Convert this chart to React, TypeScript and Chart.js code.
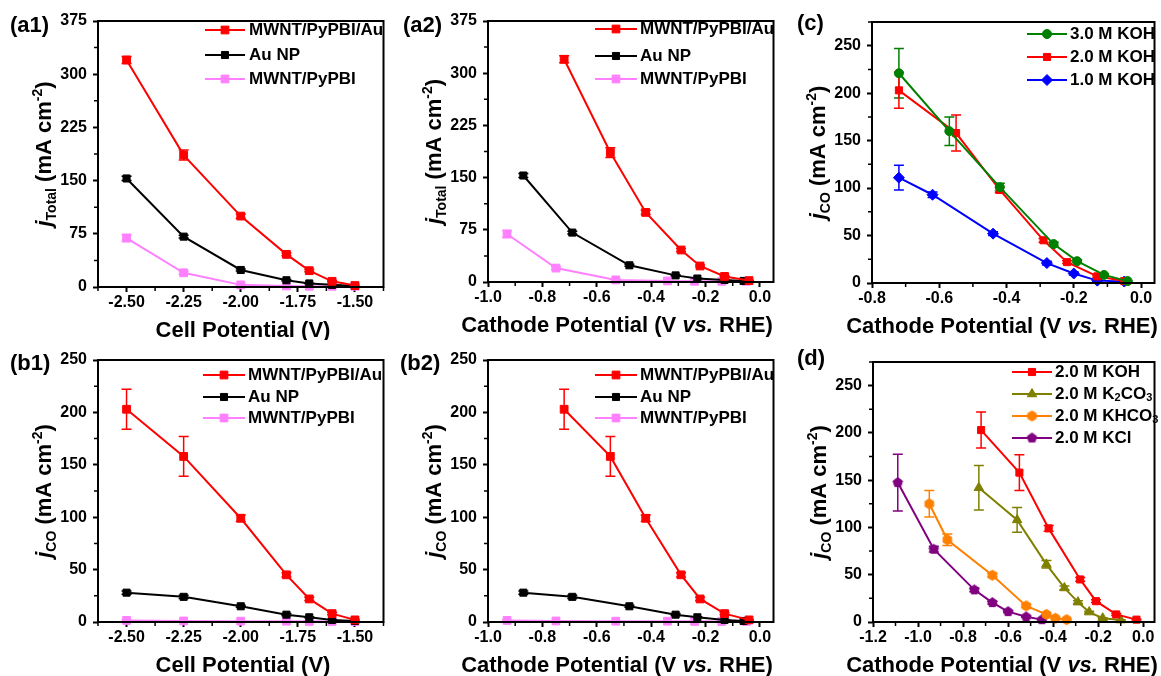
import React, { useEffect, useRef } from 'react';
import { Chart, registerables } from 'chart.js';

Chart.register(...registerables);

const FONT = "'Liberation Sans', Arial, Helvetica, sans-serif";

// ---------- x values ----------
const cellPotential = [-2.5, -2.25, -2.0, -1.8, -1.7, -1.6, -1.5];
const cathodeAu = [-0.72, -0.55, -0.42, -0.29, -0.22, -0.13, -0.04];
const cathodeAuNP = [-0.87, -0.69, -0.48, -0.31, -0.23, -0.13, -0.06];
const cathodeMWNT = [-0.93, -0.75, -0.53, -0.34, -0.24, -0.14, -0.05];

// ---------- total current density (a1, a2) ----------
const jTotalAu = [320, 186, 100, 46, 23, 8, 2];
const jTotalAuErr = [5, 7, 3, 2, 1.5, 1, 0.5];
const jTotalAuNP = [153, 71, 24, 9.5, 5, 3, 1.5];
const jTotalAuNPErr = [3, 2, 1.5, 1, 0.5, 0.5, 0.3];
const jTotalMWNT = [69, 20, 3, 1.5, 1, 1, 1];
const jTotalMWNTErr = [5, 2, 1, 0.5, 0.3, 0.3, 0.3];

// ---------- CO partial current density (b1, b2) ----------
const jCOAu = [203, 158, 99, 45, 22, 8, 2];
const jCOAuErr = [19, 19, 3, 2, 1.5, 1, 0.5];
const jCOAuNP = [28, 24, 15, 7, 4.5, 2, 1];
const jCOAuNPErr = [1.5, 1.5, 1, 1, 0.5, 0.5, 0.3];
const jCOMWNT = [1.5, 1, 0.8, 0.8, 0.6, 0.5, 0.5];
const jCOMWNTErr = [0.3, 0.3, 0.3, 0.3, 0.3, 0.3, 0.3];

// ---------- (c) KOH concentration ----------
const koh3X = [-0.72, -0.57, -0.42, -0.26, -0.19, -0.11, -0.04];
const koh3Y = [221, 160, 101, 41, 23, 8.5, 2];
const koh3Err = [26, 15, 4, 2, 1.5, 1, 0.5];
const koh2X = [-0.72, -0.55, -0.42, -0.29, -0.22, -0.13, -0.05];
const koh2Y = [203, 158, 98, 45, 22, 7, 2];
const koh2Err = [19, 19, 3, 2, 1.5, 1, 0.5];
const koh1X = [-0.72, -0.62, -0.44, -0.28, -0.2, -0.13, -0.05];
const koh1Y = [111, 93, 52, 21, 10, 2.5, 1.5];
const koh1Err = [13, 3, 2, 2, 1.5, 1, 0.5];

// ---------- (d) electrolytes ----------
const dKohX = [-0.72, -0.55, -0.42, -0.28, -0.21, -0.12, -0.03];
const dKohY = [203, 158, 99, 45, 22, 8, 2.5];
const dKohErr = [19, 19, 3, 2, 1.5, 1, 0.5];
const k2co3X = [-0.73, -0.56, -0.43, -0.35, -0.29, -0.24, -0.18, -0.1];
const k2co3Y = [142, 108, 61, 36, 21, 10.5, 4, 2];
const k2co3Err = [23.5, 13, 4, 2, 1.5, 1, 0.5, 0.3];
const khco3X = [-0.95, -0.87, -0.67, -0.52, -0.43, -0.39, -0.34];
const khco3Y = [125, 87, 49.5, 17, 8, 4, 2.5];
const khco3Err = [14, 6, 2, 1.5, 1, 0.5, 0.3];
const kclX = [-1.09, -0.93, -0.75, -0.67, -0.6, -0.52, -0.45];
const kclY = [147.5, 77, 34, 20.5, 11, 5.5, 2.5];
const kclErr = [30, 3, 2, 1.5, 1, 0.5, 0.3];

// ---------- tick labels ----------
const cellTicks = [-2.5, -2.25, -2.0, -1.75, -1.5];
const rhe10Ticks = [-1.0, -0.8, -0.6, -0.4, -0.2, 0.0];
const rhe08Ticks = [-0.8, -0.6, -0.4, -0.2, 0.0];
const rhe12Ticks = [-1.2, -1.0, -0.8, -0.6, -0.4, -0.2, 0.0];
const jTotalTicks = [0, 75, 150, 225, 300, 375];
const jCOTicks = [0, 50, 100, 150, 200, 250];

// ---------- colours ----------
const RED = '#FF0000';
const BLACK = '#000000';
const PINK = '#FF80FF';
const GREEN = '#008000';
const BLUE = '#0000FF';
const OLIVE = '#808000';
const ORANGE = '#FF8000';
const PURPLE = '#800080';

type Piece = { t: string; size: number; dy?: number; italic?: boolean };
type Series = { name: Piece[]; color: string; style: string; r: number; x: number[]; y: number[]; err: number[] };
type Panel = {
  box: { x: number; y: number; w: number; h: number };
  plot: { l: number; t: number; r: number; b: number };
  xMin: number; xMax: number; xTicks: number[]; xDec: number;
  yMin: number; yMax: number; yTicks: number[];
  label: string; labelPos: [number, number];
  xTitle: Piece[]; xTitleCx: number;
  ySub: string;
  legendLine: [number, number]; legendText: number; legendRows: number[];
  series: Series[];
};

const LEG = 17;
const txt = (t: string): Piece[] => [{ t, size: LEG }];
const cellTitle: Piece[] = [{ t: 'Cell Potential (V)', size: 22 }];
const rheTitle: Piece[] = [
  { t: 'Cathode Potential (V ', size: 22 },
  { t: 'vs.', size: 22, italic: true },
  { t: ' RHE)', size: 22 },
];

const mk = (name: Piece[], color: string, style: string, r: number, x: number[], y: number[], err: number[]): Series =>
  ({ name, color, style, r, x, y, err });

const PANELS: Panel[] = [
  {
    box: { x: 0, y: 0, w: 390, h: 340 }, plot: { l: 98, t: 21, r: 387, b: 287 },
    xMin: -2.625, xMax: -1.375, xTicks: cellTicks, xDec: 2,
    yMin: 0, yMax: 375, yTicks: jTotalTicks,
    label: '(a1)', labelPos: [10, 32], xTitle: cellTitle, xTitleCx: 243, ySub: 'Total',
    legendLine: [205, 245], legendText: 249, legendRows: [30, 55, 79],
    series: [
      mk(txt('MWNT/PyPBI/Au'), RED, 'rect', 5.5, cellPotential, jTotalAu, jTotalAuErr),
      mk(txt('Au NP'), BLACK, 'rect', 5, cellPotential, jTotalAuNP, jTotalAuNPErr),
      mk(txt('MWNT/PyPBI'), PINK, 'rect', 5.5, cellPotential, jTotalMWNT, jTotalMWNTErr),
    ],
  },
  {
    box: { x: 390, y: 0, w: 390, h: 340 }, plot: { l: 488, t: 21, r: 777, b: 282 },
    xMin: -1.0, xMax: 0.05, xTicks: rhe10Ticks, xDec: 1,
    yMin: 0, yMax: 375, yTicks: jTotalTicks,
    label: '(a2)', labelPos: [403, 32], xTitle: rheTitle, xTitleCx: 617, ySub: 'Total',
    legendLine: [595, 637], legendText: 640, legendRows: [29, 56, 79],
    series: [
      mk(txt('MWNT/PyPBI/Au'), RED, 'rect', 5.5, cathodeAu, jTotalAu, jTotalAuErr),
      mk(txt('Au NP'), BLACK, 'rect', 5, cathodeAuNP, jTotalAuNP, jTotalAuNPErr),
      mk(txt('MWNT/PyPBI'), PINK, 'rect', 5.5, cathodeMWNT, jTotalMWNT, jTotalMWNTErr),
    ],
  },
  {
    box: { x: 780, y: 0, w: 381, h: 340 }, plot: { l: 872, t: 22, r: 1159, b: 283 },
    xMin: -0.8, xMax: 0.04, xTicks: rhe08Ticks, xDec: 1,
    yMin: 0, yMax: 275, yTicks: jCOTicks,
    label: '(c)', labelPos: [797, 30], xTitle: rheTitle, xTitleCx: 1002, ySub: 'CO',
    legendLine: [1027, 1067], legendText: 1070, legendRows: [34, 57, 80],
    series: [
      mk(txt('3.0 M KOH'), GREEN, 'circle', 4.5, koh3X, koh3Y, koh3Err),
      mk(txt('2.0 M KOH'), RED, 'rect', 5, koh2X, koh2Y, koh2Err),
      mk(txt('1.0 M KOH'), BLUE, 'rectRot', 5.5, koh1X, koh1Y, koh1Err),
    ],
  },
  {
    box: { x: 0, y: 340, w: 390, h: 336 }, plot: { l: 98, t: 360, r: 387, b: 622 },
    xMin: -2.625, xMax: -1.375, xTicks: cellTicks, xDec: 2,
    yMin: 0, yMax: 250, yTicks: jCOTicks,
    label: '(b1)', labelPos: [10, 370], xTitle: cellTitle, xTitleCx: 243, ySub: 'CO',
    legendLine: [203, 245], legendText: 248, legendRows: [375, 397, 418],
    series: [
      mk(txt('MWNT/PyPBI/Au'), RED, 'rect', 5.5, cellPotential, jCOAu, jCOAuErr),
      mk(txt('Au NP'), BLACK, 'rect', 5, cellPotential, jCOAuNP, jCOAuNPErr),
      mk(txt('MWNT/PyPBI'), PINK, 'rect', 5.5, cellPotential, jCOMWNT, jCOMWNTErr),
    ],
  },
  {
    box: { x: 390, y: 340, w: 390, h: 336 }, plot: { l: 488, t: 360, r: 777, b: 622 },
    xMin: -1.0, xMax: 0.05, xTicks: rhe10Ticks, xDec: 1,
    yMin: 0, yMax: 250, yTicks: jCOTicks,
    label: '(b2)', labelPos: [400, 370], xTitle: rheTitle, xTitleCx: 617, ySub: 'CO',
    legendLine: [595, 637], legendText: 640, legendRows: [375, 397, 418],
    series: [
      mk(txt('MWNT/PyPBI/Au'), RED, 'rect', 5.5, cathodeAu, jCOAu, jCOAuErr),
      mk(txt('Au NP'), BLACK, 'rect', 5, cathodeAuNP, jCOAuNP, jCOAuNPErr),
      mk(txt('MWNT/PyPBI'), PINK, 'rect', 5.5, cathodeMWNT, jCOMWNT, jCOMWNTErr),
    ],
  },
  {
    box: { x: 780, y: 340, w: 381, h: 336 }, plot: { l: 873, t: 362, r: 1159, b: 622 },
    xMin: -1.2, xMax: 0.05, xTicks: rhe12Ticks, xDec: 1,
    yMin: 0, yMax: 275, yTicks: jCOTicks,
    label: '(d)', labelPos: [797, 365], xTitle: rheTitle, xTitleCx: 1002, ySub: 'CO',
    legendLine: [1012, 1052], legendText: 1055, legendRows: [372, 394, 416, 438],
    series: [
      mk(txt('2.0 M KOH'), RED, 'rect', 5, dKohX, dKohY, dKohErr),
      mk([{ t: '2.0 M K', size: LEG }, { t: '2', size: 11, dy: 4 }, { t: 'CO', size: LEG }, { t: '3', size: 11, dy: 4 }],
        OLIVE, 'triangle', 5.5, k2co3X, k2co3Y, k2co3Err),
      mk([{ t: '2.0 M KHCO', size: LEG }, { t: '3', size: 11, dy: 4 }], ORANGE, 'hexagon', 5, khco3X, khco3Y, khco3Err),
      mk(txt('2.0 M KCl'), PURPLE, 'pentagon', 5, kclX, kclY, kclErr),
    ],
  },
];

const fontOf = (p: Piece) => `${p.italic ? 'italic ' : ''}bold ${p.size}px ${FONT}`;

function drawRich(ctx: CanvasRenderingContext2D, pieces: Piece[], x: number, y: number, align: 'left' | 'center') {
  let w = 0;
  for (const p of pieces) { ctx.font = fontOf(p); w += ctx.measureText(p.t).width; }
  let cx = align === 'center' ? x - w / 2 : x;
  ctx.textAlign = 'left';
  for (const p of pieces) {
    ctx.font = fontOf(p);
    ctx.fillText(p.t, cx, y + (p.dy || 0));
    cx += ctx.measureText(p.t).width;
  }
}

const polyCache: Record<string, HTMLCanvasElement> = {};
function polygonCanvas(sides: number, r: number, color: string): HTMLCanvasElement {
  const key = `${sides}-${r}-${color}`;
  if (polyCache[key]) return polyCache[key];
  const size = Math.ceil(2 * r + 3);
  const c = document.createElement('canvas');
  c.width = size; c.height = size;
  const g = c.getContext('2d')!;
  g.beginPath();
  for (let i = 0; i < sides; i++) {
    const a = -Math.PI / 2 + (i * 2 * Math.PI) / sides;
    const px = size / 2 + r * Math.cos(a);
    const py = size / 2 + r * Math.sin(a);
    if (i === 0) g.moveTo(px, py); else g.lineTo(px, py);
  }
  g.closePath();
  g.fillStyle = color; g.strokeStyle = color; g.lineWidth = 1;
  g.fill(); g.stroke();
  polyCache[key] = c;
  return c;
}

function pointStyleOf(s: Series): any {
  if (s.style === 'hexagon') return polygonCanvas(6, s.r, s.color);
  if (s.style === 'pentagon') return polygonCanvas(5, s.r, s.color);
  return s.style;
}

function drawMarker(ctx: CanvasRenderingContext2D, s: Series, x: number, y: number) {
  const st = pointStyleOf(s);
  const r = s.r;
  if (typeof st !== 'string') {
    ctx.drawImage(st, x - st.width / 2, y - st.height / 2);
    return;
  }
  ctx.beginPath();
  if (st === 'rect') {
    const h = r * Math.SQRT1_2;
    ctx.rect(x - h, y - h, 2 * h, 2 * h);
  } else if (st === 'circle') {
    ctx.arc(x, y, r, 0, Math.PI * 2);
  } else if (st === 'rectRot') {
    ctx.moveTo(x - r, y); ctx.lineTo(x, y - r); ctx.lineTo(x + r, y); ctx.lineTo(x, y + r);
    ctx.closePath();
  } else if (st === 'triangle') {
    for (let i = 0; i < 3; i++) {
      const a = (i * 2 * Math.PI) / 3;
      const px = x + Math.sin(a) * r, py = y - Math.cos(a) * r;
      if (i === 0) ctx.moveTo(px, py); else ctx.lineTo(px, py);
    }
    ctx.closePath();
  }
  ctx.fillStyle = s.color; ctx.strokeStyle = s.color; ctx.lineWidth = 1;
  ctx.fill(); ctx.stroke();
}

function minorValues(ticks: number[], min: number, max: number): number[] {
  const step = ticks[1] - ticks[0];
  const out: number[] = [];
  for (let v = ticks[0] - step / 2; v <= max + 1e-9; v += step) {
    if (v >= min - 1e-9) out.push(v);
  }
  return out;
}

function makeDeco(p: Panel) {
  const ox = p.box.x, oy = p.box.y;
  return {
    id: 'panelDeco',
    beforeDatasetsDraw(chart: any) {
      const ctx: CanvasRenderingContext2D = chart.ctx;
      const ys = chart.scales.y;
      ctx.save();
      p.series.forEach((s, i) => {
        const meta = chart.getDatasetMeta(i);
        ctx.strokeStyle = s.color;
        ctx.lineWidth = 1.5;
        s.err.forEach((e, j) => {
          const el = meta.data[j];
          if (!el || !e) return;
          const x = el.x;
          const y1 = ys.getPixelForValue(s.y[j] + e);
          const y2 = ys.getPixelForValue(s.y[j] - e);
          ctx.beginPath();
          ctx.moveTo(x, y1); ctx.lineTo(x, y2);
          ctx.moveTo(x - 5, y1); ctx.lineTo(x + 5, y1);
          ctx.moveTo(x - 5, y2); ctx.lineTo(x + 5, y2);
          ctx.stroke();
        });
      });
      ctx.restore();
    },
    afterDraw(chart: any) {
      const ctx: CanvasRenderingContext2D = chart.ctx;
      const a = chart.chartArea;
      const xs = chart.scales.x, ys = chart.scales.y;
      ctx.save();
      // minor ticks
      ctx.strokeStyle = '#000';
      ctx.lineWidth = 1.5;
      ctx.beginPath();
      for (const v of minorValues(p.xTicks, p.xMin, p.xMax)) {
        const x = xs.getPixelForValue(v);
        ctx.moveTo(x, a.bottom); ctx.lineTo(x, a.bottom + 4);
      }
      for (const v of minorValues(p.yTicks, p.yMin, p.yMax)) {
        const y = ys.getPixelForValue(v);
        ctx.moveTo(a.left, y); ctx.lineTo(a.left - 4, y);
      }
      ctx.stroke();
      // frame
      ctx.lineWidth = 2;
      ctx.strokeRect(a.left, a.top, a.right - a.left, a.bottom - a.top);

      ctx.fillStyle = '#000';
      // panel label
      ctx.textBaseline = 'alphabetic';
      drawRich(ctx, [{ t: p.label, size: 22 }], p.labelPos[0] - ox, p.labelPos[1] - oy, 'left');
      // x title
      drawRich(ctx, p.xTitle, p.xTitleCx - ox, a.bottom + 50, 'center');
      // y title
      ctx.save();
      ctx.translate(a.left - 47, (a.top + a.bottom) / 2);
      ctx.rotate(-Math.PI / 2);
      drawRich(ctx, [
        { t: 'j', size: 22, italic: true },
        { t: p.ySub, size: 14, dy: 5 },
        { t: ' (mA cm', size: 22 },
        { t: '-2', size: 14, dy: -9 },
        { t: ')', size: 22 },
      ], 0, 0, 'center');
      ctx.restore();
      // legend
      p.series.forEach((s, i) => {
        const y = p.legendRows[i] - oy;
        const x1 = p.legendLine[0] - ox, x2 = p.legendLine[1] - ox;
        ctx.strokeStyle = s.color;
        ctx.lineWidth = 2;
        ctx.beginPath();
        ctx.moveTo(x1, y); ctx.lineTo(x2, y);
        ctx.stroke();
        drawMarker(ctx, s, (x1 + x2) / 2, y);
        ctx.fillStyle = '#000';
        ctx.textBaseline = 'middle';
        drawRich(ctx, s.name, p.legendText - ox, y, 'left');
      });
      ctx.restore();
    },
  };
}

function buildChart(canvas: HTMLCanvasElement, p: Panel): Chart {
  const pl = p.plot.l - p.box.x;
  const pt = p.plot.t - p.box.y;
  const pr = p.box.x + p.box.w - p.plot.r;
  const pb = p.box.y + p.box.h - p.plot.b;
  const tickFont = { family: FONT, size: 16, weight: 'bold' as const };
  const grid = { display: true, drawOnChartArea: false, drawTicks: true, tickLength: 5, tickWidth: 2, tickColor: '#000' };
  return new Chart(canvas, {
    type: 'line',
    data: {
      datasets: p.series.map((s) => ({
        label: s.name.map((q) => q.t).join(''),
        data: s.x.map((x, i) => ({ x, y: s.y[i] })),
        borderColor: s.color,
        backgroundColor: s.color,
        borderWidth: 2,
        pointStyle: pointStyleOf(s),
        pointRadius: s.r,
        pointHoverRadius: s.r,
        pointBorderWidth: 1,
        pointBorderColor: s.color,
        pointBackgroundColor: s.color,
        tension: 0,
        fill: false,
        clip: false as any,
      })),
    },
    options: {
      responsive: false,
      maintainAspectRatio: false,
      animation: false,
      devicePixelRatio: 1,
      events: [],
      layout: { padding: { left: 0, top: pt, right: pr, bottom: 0 } },
      plugins: { legend: { display: false }, tooltip: { enabled: false }, title: { display: false } },
      scales: {
        x: {
          type: 'linear',
          position: 'bottom',
          min: p.xMin,
          max: p.xMax,
          afterBuildTicks: (sc: any) => { sc.ticks = p.xTicks.map((v) => ({ value: v })); },
          afterFit: (sc: any) => { sc.height = pb; sc.paddingLeft = 0; sc.paddingRight = 0; },
          ticks: {
            callback: (v: any) => Number(v).toFixed(p.xDec),
            font: tickFont, color: '#000', padding: 1, autoSkip: false, maxRotation: 0, minRotation: 0,
          },
          grid,
          border: { display: false },
        },
        y: {
          type: 'linear',
          position: 'left',
          min: p.yMin,
          max: p.yMax,
          afterBuildTicks: (sc: any) => { sc.ticks = p.yTicks.map((v) => ({ value: v })); },
          afterFit: (sc: any) => { sc.width = pl; sc.paddingTop = 0; sc.paddingBottom = 0; },
          ticks: {
            callback: (v: any) => String(Number(v)),
            font: tickFont, color: '#000', padding: 6, autoSkip: false,
          },
          grid,
          border: { display: false },
        },
      },
    } as any,
    plugins: [makeDeco(p)],
  });
}

export default function App() {
  const refs = useRef<(HTMLCanvasElement | null)[]>([]);
  useEffect(() => {
    const charts = PANELS.map((p, i) => buildChart(refs.current[i]!, p));
    return () => { charts.forEach((c) => c.destroy()); };
  }, []);
  return (
    <div style={{ position: 'absolute', left: 0, top: 0, width: 1161, height: 676, background: '#fff', overflow: 'hidden' }}>
      {PANELS.map((p, i) => (
        <canvas
          key={i}
          ref={(el) => { refs.current[i] = el; }}
          width={p.box.w}
          height={p.box.h}
          style={{ position: 'absolute', left: p.box.x, top: p.box.y, width: p.box.w, height: p.box.h }}
        />
      ))}
    </div>
  );
}
